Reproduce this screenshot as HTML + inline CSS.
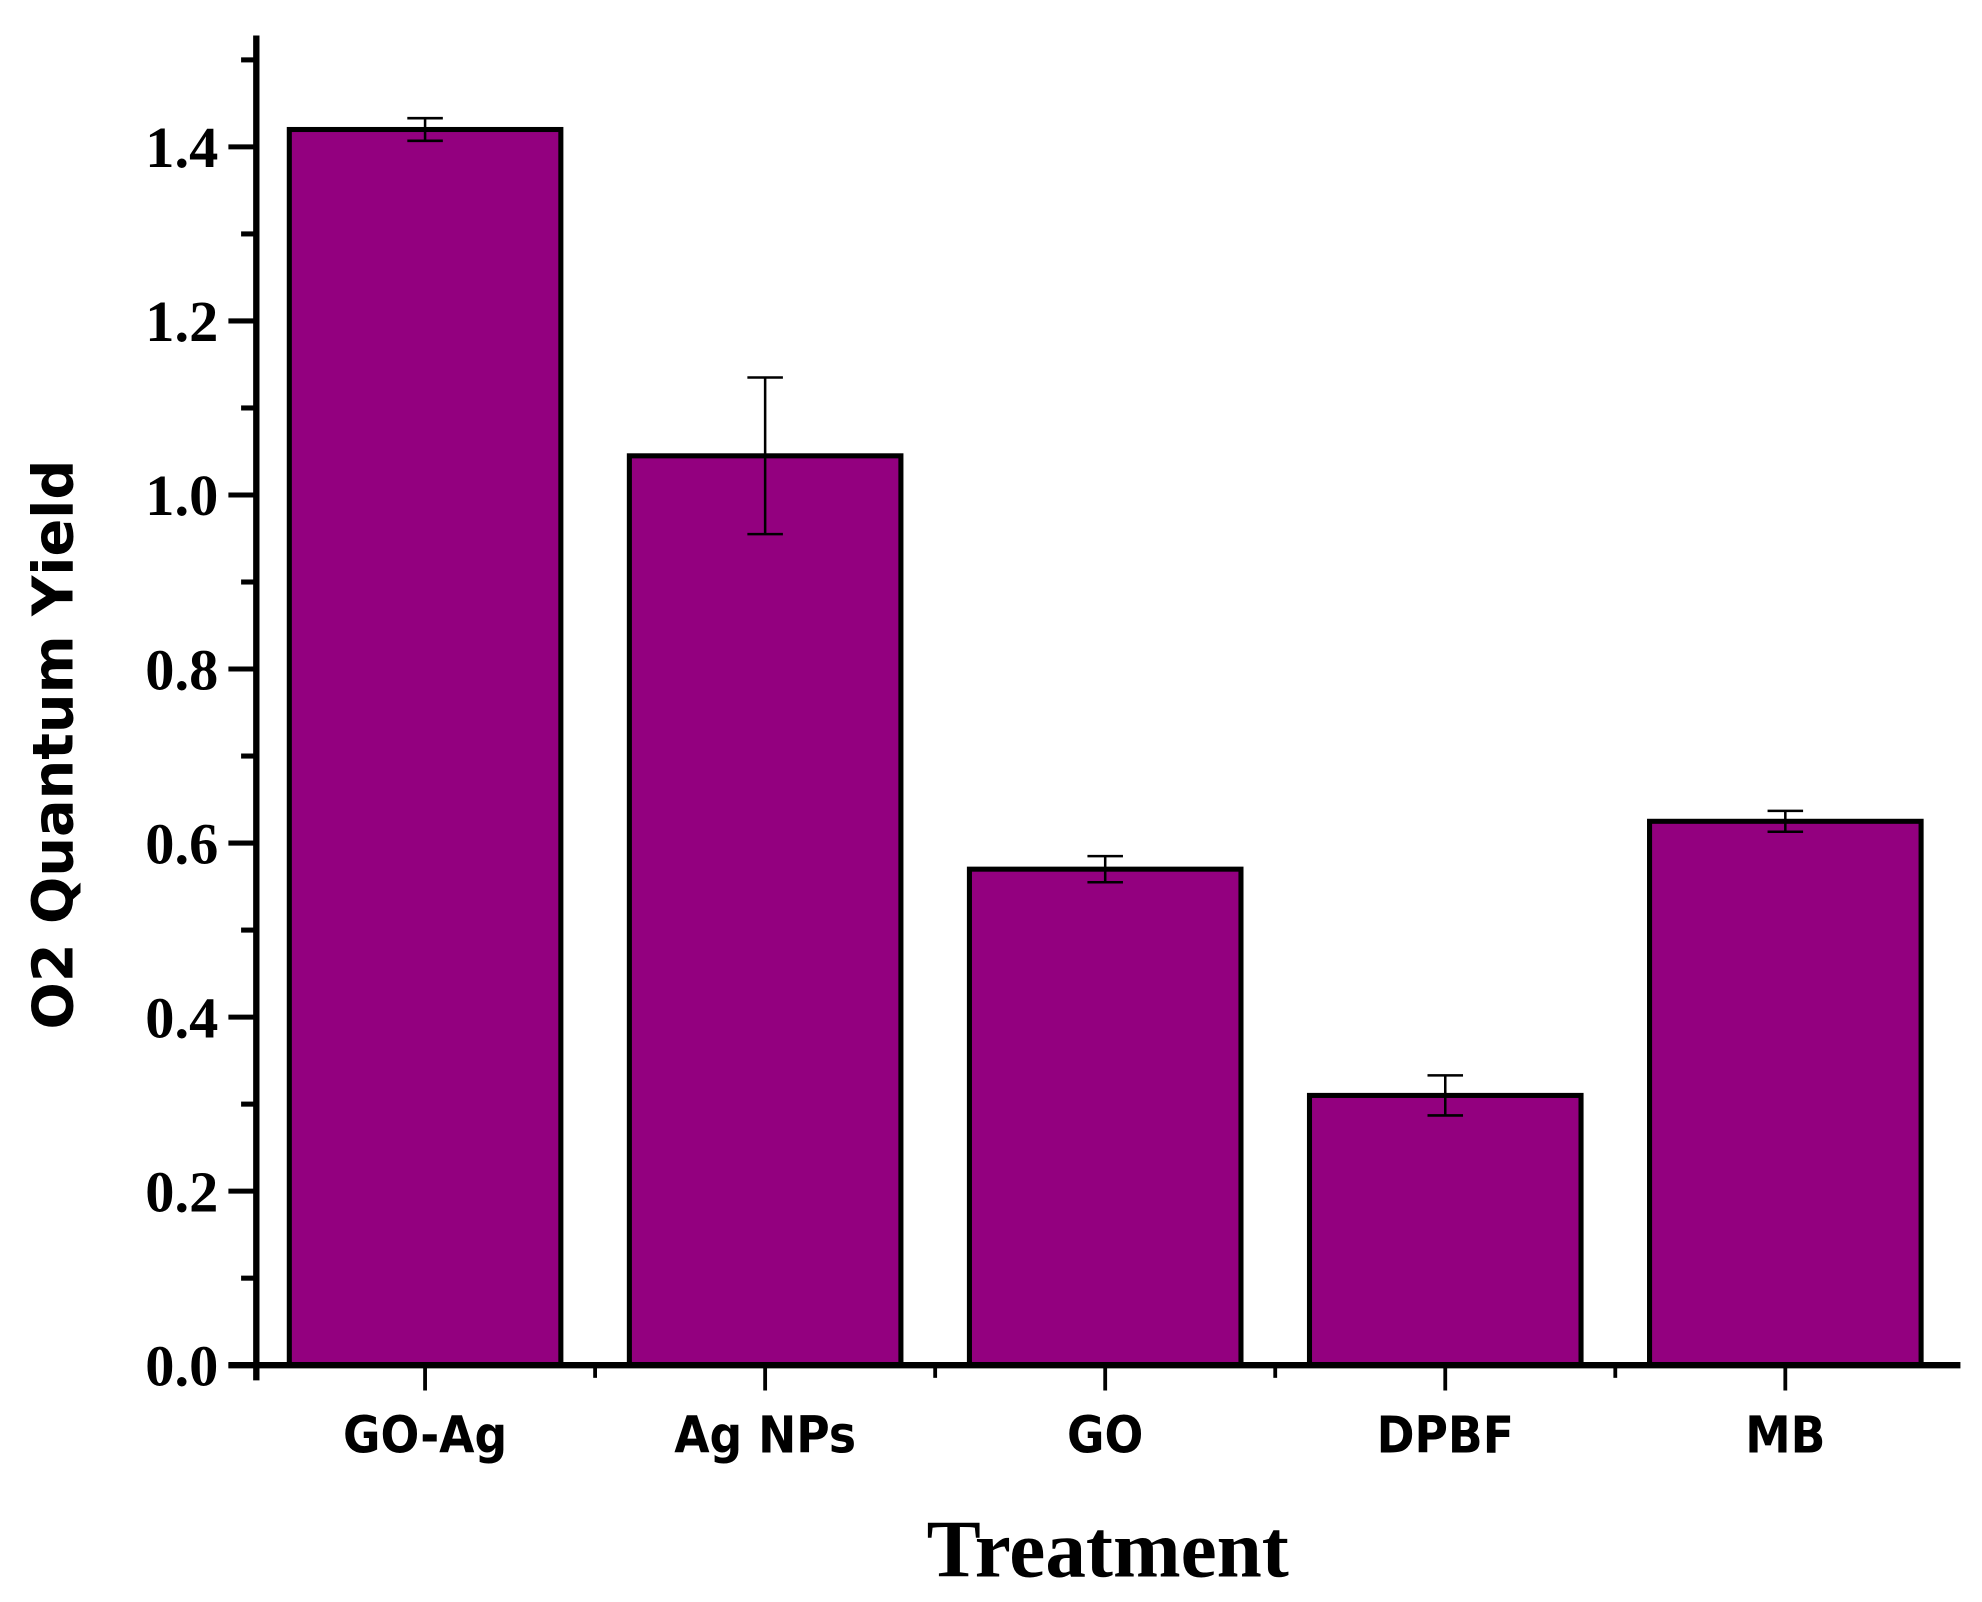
<!DOCTYPE html>
<html><head><meta charset="utf-8"><style>html,body{margin:0;padding:0;background:#fff}svg{display:block}</style></head>
<body>
<svg id="chart" width="1982" height="1602" viewBox="0 0 1562 1265" preserveAspectRatio="none" xmlns="http://www.w3.org/2000/svg"></svg>
<script>
const categories = ["GO-Ag","Ag NPs","GO","DPBF","MB"];
const values = [1.42, 1.045, 0.57, 0.31, 0.625];
const errors = [0.013, 0.09, 0.015, 0.023, 0.012];
const yTicks = [0,0.2,0.4,0.6,0.8,1.0,1.2,1.4];
const yTickLabels = ["0.0","0.2","0.4","0.6","0.8","1.0","1.2","1.4"];

const NS="http://www.w3.org/2000/svg";
const svg=document.getElementById('chart');
const x0=202, y0=1078, pxPer=(1078-116)/1.4, step=268, firstC=335, barW=214;
const yS=v=>y0-v*pxPer;
const xS=i=>firstC+i*step;
function mk(t,a){const e=document.createElementNS(NS,t);for(const k in a)e.setAttribute(k,a[k]);svg.appendChild(e);return e;}

categories.forEach((c,i)=>{
  const r=mk('rect',{x:xS(i)-barW/2,y:yS(values[i]),width:barW,height:y0-yS(values[i]),fill:'#93007F',stroke:'#000','stroke-width':4});
  
  
  const g=mk('path',{d:`M${xS(i)},${yS(values[i]+errors[i])}V${yS(values[i]-errors[i])}M${xS(i)-14},${yS(values[i]+errors[i])}H${xS(i)+14}M${xS(i)-14},${yS(values[i]-errors[i])}H${xS(i)+14}`,stroke:'#000','stroke-width':2,fill:'none'});
  
  
  const t=mk('text',{x:xS(i),y:1147,'text-anchor':'middle','font-family':'"DejaVu Sans Condensed","DejaVu Sans",sans-serif','font-weight':'bold','font-size':40});
  t.textContent=c;
  
  
  const tk=mk('line',{x1:xS(i),x2:xS(i),y1:y0,y2:1098,stroke:'#000','stroke-width':3});
  
  
  if(i<categories.length-1){
    const mt=mk('line',{x1:xS(i)+step/2,x2:xS(i)+step/2,y1:y0,y2:1088,stroke:'#000','stroke-width':3});
    
    
  }
});
yTicks.forEach((v,i)=>{
  const l=mk('line',{x1:180,x2:x0,y1:yS(v),y2:yS(v),stroke:'#000','stroke-width':4});
  
  
  const t=mk('text',{x:172,y:yS(v)+16,'text-anchor':'end','font-family':'"Liberation Serif",serif','font-weight':'bold','font-size':46});
  t.textContent=yTickLabels[i];
  
  
  const m=mk('line',{x1:190,x2:x0,y1:yS(v+0.1),y2:yS(v+0.1),stroke:'#000','stroke-width':4});
  
  
});
const ya=mk('line',{x1:x0,x2:x0,y1:28,y2:1090,stroke:'#000','stroke-width':5});


const xa=mk('line',{x1:180,x2:1545,y1:y0,y2:y0,stroke:'#000','stroke-width':5});


const xt=mk('text',{x:873,y:1245,'text-anchor':'middle','font-family':'"Liberation Serif",serif','font-weight':'bold','font-size':64});
xt.textContent='Treatment';


const yt=mk('text',{x:0,y:0,'text-anchor':'middle','font-family':'"DejaVu Sans",sans-serif','font-weight':'bold','font-size':44,transform:'translate(57,588) rotate(-90)'});
yt.textContent='O2 Quantum Yield';


</script>
</body></html>
